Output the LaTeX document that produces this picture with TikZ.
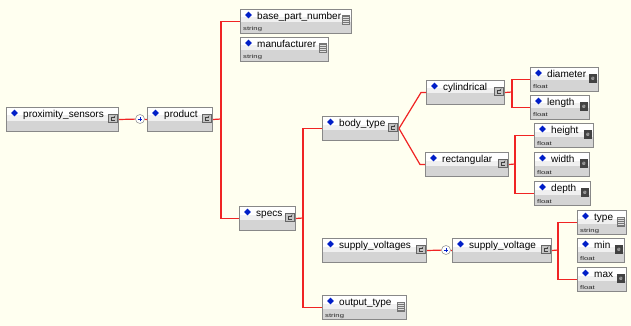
\documentclass[tikz,border=0pt]{standalone}
\usepackage{fontspec}
\setmainfont{Liberation Sans}
\usepackage{graphicx}
\usetikzlibrary{shapes.geometric}

\definecolor{paper}{RGB}{255,255,240}
\definecolor{wire}{RGB}{240,36,36}
\definecolor{frame}{RGB}{136,136,136}
\definecolor{bandlow}{RGB}{212,212,212}
\definecolor{bandmid}{RGB}{240,240,240}
\definecolor{gem}{RGB}{0,30,200}
\definecolor{cicon}{RGB}{196,196,196}
\definecolor{eicon}{RGB}{66,66,66}
\definecolor{sicon}{RGB}{118,118,118}

\tikzset{
  elembox/.style={rectangle, draw=frame, line width=1pt, inner sep=0pt,
    minimum height=24pt, anchor=north west, fill=white,
    path picture={
      \fill[bandmid] ([yshift=11pt]path picture bounding box.south west) rectangle
        ([yshift=16pt]path picture bounding box.south east);
      \fill[bandlow] (path picture bounding box.south west) rectangle
        ([yshift=11pt]path picture bounding box.south east);
    }},
  gemstone/.style={diamond, fill=gem, inner sep=0pt, minimum width=7pt, minimum height=7pt},
  lbl/.style={anchor=base west, inner sep=0pt, font=\fontsize{10}{12}\selectfont},
  typ/.style={anchor=base west, inner sep=0pt, font=\fontsize{5.5}{6}\selectfont, text=black!85},
  % complex type marker
  cplx/.style={rectangle, draw=black!60, fill=cicon, line width=0.7pt,
    minimum size=8.5pt, inner sep=0pt,
    path picture={
      \draw[black!75, line width=0.7pt]
        ([xshift=1.6pt,yshift=1.4pt]path picture bounding box.center) -- ++(-3pt,0)
        -- ++(0,-3.2pt) -- ++(3pt,0);
      \draw[black!75, line width=0.6pt]
        ([xshift=0.9pt,yshift=1.4pt]path picture bounding box.center) -- ++(1.4pt,1.4pt);
    }},
  % simple numeric type marker
  flt/.style={rectangle, fill=eicon, minimum size=8.5pt, inner sep=0pt,
    label={[text=white!85!gray, inner sep=0pt, font=\fontsize{6}{6}\selectfont]center:e}},
  % string type marker
  str/.style={rectangle, fill=sicon, minimum width=8.5pt, minimum height=10pt, inner sep=0pt,
    path picture={
      \foreach \k in {-3,-1,1,3}
        \draw[white!75!gray, line width=0.6pt]
          ([xshift=-3pt,yshift=\k pt]path picture bounding box.center) -- ++(6pt,0);
    }},
  seq/.style={circle, draw=black!40, fill=white, minimum size=9pt, inner sep=0pt,
    line width=0.6pt,
    path picture={
      \draw[gem, line width=0.8pt]
        ([xshift=-2.4pt]path picture bounding box.center) -- ++(4.8pt,0)
        ([yshift=-2.4pt]path picture bounding box.center) -- ++(0,4.8pt);
    }},
  conn/.style={color=wire, line width=1.2pt}
}

% name, x, y (top), width, label, type text, marker style
\newcommand{\xsdelem}[7]{%
  \node[elembox, minimum width=#4pt] (#1) at (#2,#3) {};
  \node[gemstone] (#1-g) at ([xshift=8.5pt,yshift=-6pt]#1.north west) {};
  \node[lbl] (#1-l) at ([xshift=17pt,yshift=-10.5pt]#1.north west) {#5};
  \node[typ] (#1-t) at ([xshift=3pt,yshift=3pt]#1.south west) {\scalebox{1.4}[1]{#6}};
  \node[#7] (#1-i) at ([xshift=-6pt,yshift=1pt]#1.east) {};
}

\begin{document}
\begin{tikzpicture}[x=1pt, y=-1pt]
  \fill[paper] (0,0) rectangle (631,326);
  \useasboundingbox (0,0) rectangle (631,326);

  % element boxes
  \xsdelem{ps}{6}{107}{112}{proximity\_sensors}{}{cplx}
  \xsdelem{pr}{147}{107}{65}{product}{}{cplx}
  \xsdelem{bpn}{240}{9}{111}{base\_part\_number}{string}{str}
  \xsdelem{mf}{240}{37}{88}{manufacturer}{string}{str}
  \xsdelem{sp}{239}{206}{56}{specs}{}{cplx}
  \xsdelem{bt}{322}{116}{76}{body\_type}{}{cplx}
  \xsdelem{sv}{322}{238}{104}{supply\_voltages}{}{cplx}
  \xsdelem{ot}{322}{295}{84}{output\_type}{string}{str}
  \xsdelem{cy}{426}{80}{78}{cylindrical}{}{cplx}
  \xsdelem{re}{425}{152}{83}{rectangular}{}{cplx}
  \xsdelem{di}{530}{67}{68}{diameter}{float}{flt}
  \xsdelem{le}{530}{95}{59}{length}{float}{flt}
  \xsdelem{he}{534}{123}{59}{height}{float}{flt}
  \xsdelem{wi}{534}{152}{55}{width}{float}{flt}
  \xsdelem{de}{534}{181}{56}{depth}{float}{flt}
  \xsdelem{svv}{452}{238}{99}{supply\_voltage}{}{cplx}
  \xsdelem{ty}{577}{210}{49}{type}{string}{str}
  \xsdelem{mn}{577}{238}{47}{min}{float}{flt}
  \xsdelem{mx}{577}{267}{49}{max}{float}{flt}

  % sequence markers
  \node[seq] (q1) at (140,119) {};
  \node[seq] (q2) at (446,250) {};

  % branch points
  \coordinate (j1) at (221,119);
  \coordinate (j2) at (303,218);
  \coordinate (j3) at (512,92);
  \coordinate (j4) at (515,164);
  \coordinate (j5) at (558,250);

  % connectors
  \draw[conn] (ps.east) -- (q1) -- (pr.west);
  \draw[conn] (pr.east) -- (j1);
  \draw[conn] (j1) |- (bpn.west);
  \draw[conn] (j1) |- (sp.west);
  \draw[conn] (sp.east) -- (j2);
  \draw[conn] (j2) |- (bt.west);
  \draw[conn] (j2) |- (ot.west);
  \draw[conn] (bt.east) -- ([xshift=-5pt]cy.west) -- (cy.west);
  \draw[conn] (bt.east) -- ([xshift=-5pt]re.west) -- (re.west);
  \draw[conn] (cy.east) -- (j3);
  \draw[conn] (j3) |- (di.west);
  \draw[conn] (j3) |- (le.west);
  \draw[conn] (re.east) -- (j4);
  \draw[conn] (j4) |- (he.west);
  \draw[conn] (j4) |- (de.west);
  \draw[conn] (sv.east) -- (q2) -- (svv.west);
  \draw[conn] (svv.east) -- (j5);
  \draw[conn] (j5) |- (ty.west);
  \draw[conn] (j5) |- (mx.west);
\end{tikzpicture}
\end{document}
